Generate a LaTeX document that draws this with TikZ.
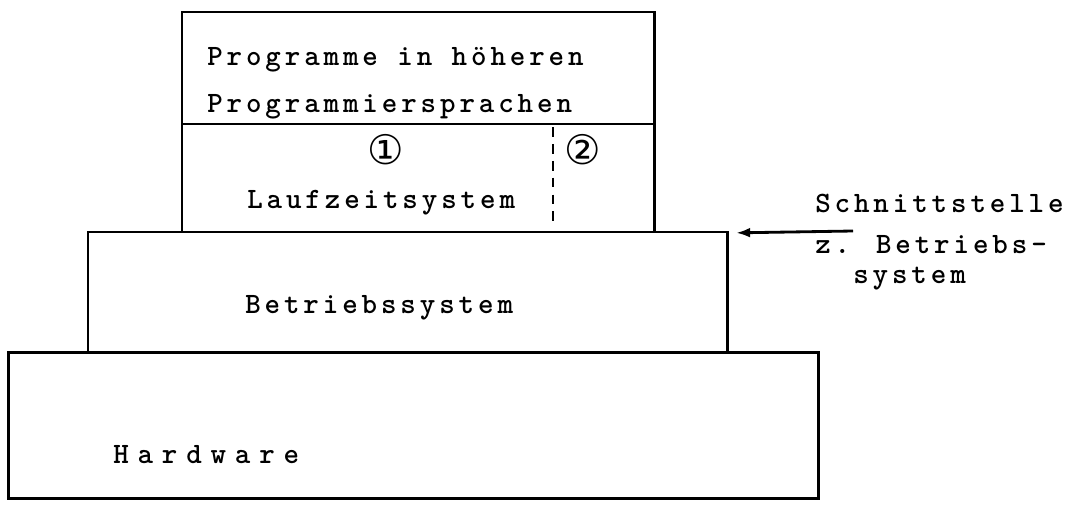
\documentclass[tikz,border=0pt]{standalone}
\usepackage{fontspec}
\newfontfamily\circfont{DejaVu Sans}
% schreibmaschine: gesperrte Mono-Schrift
\newfontfamily\typer[LetterSpace=13.2]{lmmonolt10-bold.otf}
\newfontfamily\typerwide[LetterSpace=29.9]{lmmonolt10-bold.otf}
\usetikzlibrary{arrows.meta, positioning}

\begin{document}
\begin{tikzpicture}[
    x=0.025cm, y=-0.025cm,
    >=Latex,
    % --- styles ---
    % schichten: einfache rahmen
    layer/.style={draw, line width=2pt, inner sep=0pt, outer sep=0pt},
    % schreibmaschinentext
    txt/.style={anchor=base west, inner sep=0pt, font=\typer\fontsize{21}{25}\selectfont},
    spread/.style={txt, font=\typerwide\fontsize{21}{25}\selectfont},
    % eingekreiste ziffern
    num/.style={inner sep=0pt, font=\circfont\fontsize{29}{29}\selectfont},
    % trennlinie und pfeil
    divider/.style={line width=1.2pt, dash pattern=on 7pt off 5pt},
    pointer/.style={line width=2pt, arrows={-Latex[length=10pt, width=7pt]}}
]
\useasboundingbox (0,0) rectangle (1075,506);

% --- 1. Schichten (von oben nach unten) ---
\node[layer, anchor=north west, minimum width=11.8cm, minimum height=2.8cm] (prog) at (182,12) {};
\node[layer, minimum width=11.8cm, minimum height=2.7cm, below=0pt of prog] (lzs) {};
\node[layer, minimum width=15.975cm, minimum height=3.0cm, below=0pt of lzs, xshift=-0.26cm] (bs) {};
\node[layer, minimum width=20.25cm, minimum height=3.65cm, below=0pt of bs, xshift=0.14cm] (hw) {};

% --- 2. Beschriftungen ---
\node[txt] (progA) at (207,65) {Programme in höheren};
\node[txt] (progB) at (207,112) {Programmiersprachen};
\node[txt] (lzsText) at (247,208) {Laufzeitsystem};
\node[txt] (bsText) at (245,313) {Betriebssystem};
\node[spread] (hwText) at (113,463) {Hardware};

% Ziffern 1 und 2
\node[num] (one) at (386,150) {①};
\node[num] (two) at (583,150) {②};

% gestrichelte Trennung im Laufzeitsystem
\coordinate (cutTop) at (553,127);
\coordinate (cutBot) at (553,224);
\draw[divider] (cutTop) -- (cutBot);

% --- 3. Schnittstelle ---
\node[txt] (ifA) at (815,212) {Schnittstelle};
\node[txt] (ifB) at (815,253) {z. Betriebs-};
\node[txt] (ifC) at (853,283) {system};

\coordinate (ifTail) at (853,231);
\draw[pointer] (ifTail) -- ([xshift=0.22cm, yshift=-0.02cm]bs.north east);

\end{tikzpicture}
\end{document}
